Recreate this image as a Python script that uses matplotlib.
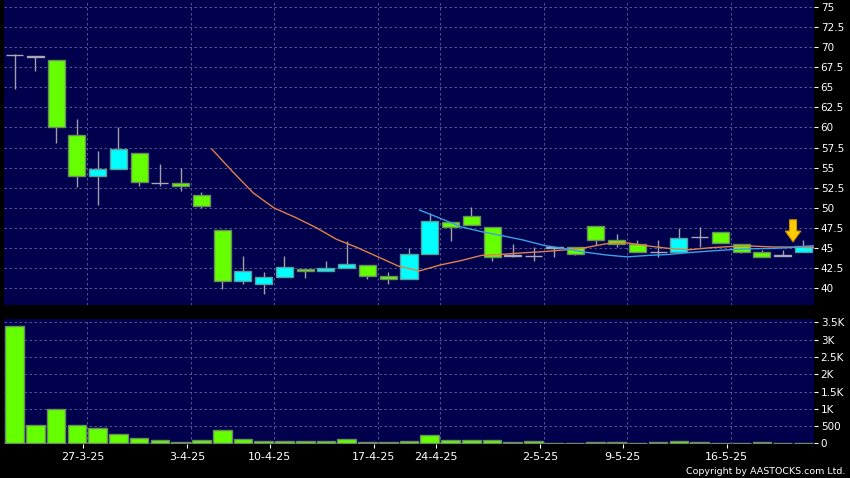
import matplotlib
matplotlib.use("Agg")
import numpy as np
import matplotlib.pyplot as plt
from matplotlib.patches import Rectangle, FancyArrow

# trading days
dates = ["21-3-25", "24-3-25", "25-3-25", "26-3-25", "27-3-25", "28-3-25", "31-3-25",
         "1-4-25", "2-4-25", "3-4-25", "7-4-25", "8-4-25", "9-4-25", "10-4-25",
         "11-4-25", "14-4-25", "15-4-25", "16-4-25", "17-4-25", "22-4-25", "23-4-25",
         "24-4-25", "25-4-25", "28-4-25", "29-4-25", "30-4-25", "2-5-25", "6-5-25",
         "7-5-25", "8-5-25", "9-5-25", "12-5-25", "13-5-25", "14-5-25", "15-5-25",
         "16-5-25", "19-5-25", "20-5-25", "21-5-25"]
shown_dates = ["27-3-25", "3-4-25", "10-4-25", "17-4-25", "24-4-25", "2-5-25", "9-5-25", "16-5-25"]

opens = [69.0, 68.9, 68.4, 59.0, 54.0, 54.8, 56.8, 53.1, 53.05, 51.55, 47.2, 40.85, 40.5,
         41.35, 42.4, 42.1, 42.45, 42.85, 41.5, 41.1, 44.3, 48.2, 48.95, 47.65, 44.1, 43.95,
         45.05, 45.15, 47.7, 45.95, 45.45, 44.45, 44.45, 46.4, 46.95, 45.45, 44.45, 44.1, 44.55]
highs = [69.2, 68.9, 68.4, 61.0, 57.1, 60.0, 56.8, 55.45, 55.0, 51.9, 47.2, 44.0, 42.0,
         44.0, 42.4, 43.4, 45.9, 42.85, 41.95, 44.95, 49.4, 48.2, 50.1, 47.65, 45.5, 45.05,
         45.1, 45.15, 47.7, 46.7, 46.0, 46.0, 47.45, 47.55, 46.95, 45.45, 44.8, 44.75, 45.95]
lows = [64.8, 67.0, 58.1, 52.6, 50.3, 54.8, 52.75, 52.75, 52.1, 50.0, 39.85, 40.5, 39.2,
        41.35, 41.3, 42.1, 42.45, 41.1, 40.55, 41.1, 44.3, 45.9, 47.9, 43.4, 43.9, 43.4,
        43.9, 44.1, 45.35, 45.15, 44.45, 43.85, 44.45, 45.05, 45.55, 44.4, 43.9, 44.0, 44.55]
closes = [69.0, 68.8, 60.0, 54.0, 54.8, 57.3, 53.2, 53.1, 52.75, 50.25, 40.85, 42.1, 41.35,
          42.6, 42.1, 42.45, 42.95, 41.45, 41.1, 44.3, 48.3, 47.55, 47.9, 43.85, 44.0, 43.95,
          45.0, 44.25, 46.0, 45.45, 44.45, 44.45, 46.2, 46.4, 45.55, 44.55, 43.9, 44.0, 45.2]
volumes = [3410, 540, 1000, 530, 435, 280, 145, 87, 46, 104, 393, 116, 67, 67, 67, 67, 124,
           38, 46, 75, 249, 87, 95, 95, 46, 67, 17, 10, 38, 29, 12, 29, 58, 38, 19, 5, 29, 19, 3]

# moving averages
ma10 = [np.nan] * 9 + [57.32, 54.5, 51.84, 49.97, 48.83, 47.56, 46.08, 45.05, 43.89, 42.72,
                       42.13, 42.87, 43.42, 44.07, 44.2, 44.39, 44.54, 44.75, 45.03, 45.52,
                       45.63, 45.25, 44.94, 44.77, 45.02, 45.17, 45.23, 45.12, 45.1, 45.02]
ma20 = [np.nan] * 19 + [49.72, 48.69, 47.63, 47.02, 46.51, 45.98, 45.31, 44.9, 44.46, 44.12,
                        43.88, 44.06, 44.18, 44.42, 44.61, 44.78, 44.89, 44.93, 45.06, 45.27]

price_ticks = [40 + 2.5 * i for i in range(15)]
vol_ticks = [0, 500, 1000, 1500, 2000, 2500, 3000, 3500]
vol_labels = ["0", "500", "1K", "1.5K", "2K", "2.5K", "3K", "3.5K"]

bg = "#00004c"
grid_c = "#62629a"
up_c, down_c, flat_c = "#00ffff", "#66ff00", "#a8a8b8"
x = np.arange(len(dates))

fig = plt.figure(figsize=(8.5, 4.78), dpi=100, facecolor="black")
ax = fig.add_axes([4.2 / 850, 1 - 305 / 478, 809.6 / 850, 305 / 478])
axv = fig.add_axes([4.2 / 850, 1 - 444 / 478, 809.6 / 850, 125 / 478])

date_pos = [dates.index(d) - 0.5 for d in shown_dates]

for a in (ax, axv):
    a.set_facecolor(bg)
    a.set_xlim(-0.5, len(dates) - 0.5)
    for s in a.spines.values():
        s.set_visible(False)
    a.yaxis.tick_right()
    a.tick_params(axis="y", colors="white", labelsize=7.5, length=3, width=0.8, pad=2)
    a.grid(axis="y", color=grid_c, linestyle=(0, (3, 3)), linewidth=0.6)
    for p in date_pos:
        a.axvline(p, color=grid_c, linestyle=(0, (3, 3)), linewidth=0.6, zorder=0.5)
    a.set_axisbelow(True)

# candles
bw = 0.82
for i in x:
    o, h, l, c = opens[i], highs[i], lows[i], closes[i]
    if c - o > 0.15:
        fc, ec = up_c, "#5c9c9c"
    elif o - c > 0.15:
        fc, ec = down_c, "#6a8c60"
    else:
        fc, ec = flat_c, flat_c
    ax.vlines(i, l, h, color="#a0a0a8", linewidth=1, zorder=2)
    ax.add_patch(Rectangle((i - bw / 2, min(o, c)), bw, abs(o - c), facecolor=fc,
                           edgecolor=ec, linewidth=1, zorder=3))

ax.plot(x + 0.5, ma10, color="#e0804a", linewidth=1, zorder=4)
ax.plot(x + 0.5, ma20, color="#3aa0e8", linewidth=1, zorder=4)

ax.add_patch(FancyArrow(37.5, 48.5, 0, -2.75, width=0.34, head_width=0.75, head_length=1.35,
                        length_includes_head=True, facecolor="#ffcc00", edgecolor="#d09000",
                        linewidth=0.8, zorder=5))

ax.set_ylim(75 - 298 / 8.03, 75 + 7 / 8.03)
ax.set_yticks(price_ticks)
ax.set_yticklabels(["{:g}".format(t) for t in price_ticks])
ax.set_xticks([])

axv.bar(x, volumes, width=bw + 0.08, color=down_c, edgecolor="#6a8c60", linewidth=1, zorder=3)
axv.set_ylim(-20, 3600)
axv.set_yticks(vol_ticks)
axv.set_yticklabels(vol_labels)
axv.set_xticks([p - 0.2 for p in date_pos])
axv.set_xticklabels(shown_dates)
axv.tick_params(axis="x", colors="white", labelsize=8, length=3, width=0.8, pad=3)

fig.text(0.994, 0.013, "Copyright by AASTOCKS.com Ltd.", color="white", fontsize=6.8,
         ha="right", va="center")

fig.savefig("out.png", dpi=100, facecolor="black")
